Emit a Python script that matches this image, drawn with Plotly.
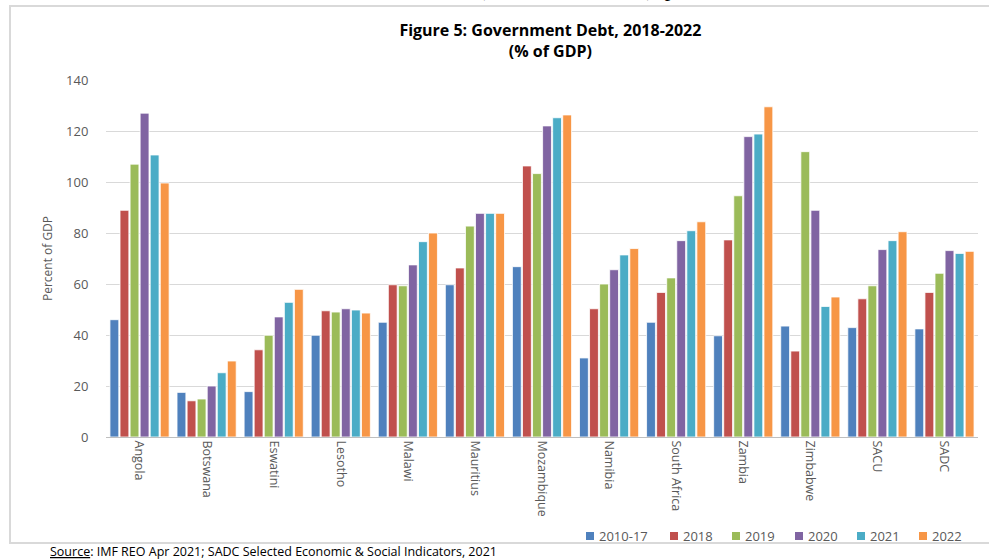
import plotly.graph_objects as go

categories = ["Angola", "Botswana", "Eswatini", "Lesotho", "Malawi", "Mauritius",
              "Mozambique", "Namibia", "South Africa", "Zambia", "Zimbabwe", "SACU", "SADC"]
series_names = ["2010-17", "2018", "2019", "2020", "2021", "2022"]

v_2010_17 = [46.0, 17.5, 17.8, 39.9, 45.0, 59.7, 66.8, 31.0, 45.0, 39.7, 43.5, 42.9, 42.4]
v_2018 = [88.9, 14.2, 34.2, 49.5, 59.7, 66.3, 106.3, 50.3, 56.7, 77.3, 33.7, 54.2, 56.7]
v_2019 = [107.0, 14.9, 39.9, 49.0, 59.3, 82.7, 103.3, 60.0, 62.4, 94.6, 111.9, 59.3, 64.2]
v_2020 = [127.0, 20.0, 47.1, 50.3, 67.5, 87.7, 122.0, 65.6, 77.0, 117.8, 88.9, 73.5, 73.1]
v_2021 = [110.6, 25.2, 52.8, 49.8, 76.6, 87.7, 125.2, 71.4, 80.9, 118.8, 51.2, 77.0, 72.0]
v_2022 = [99.6, 29.8, 57.9, 48.6, 80.0, 87.7, 126.3, 73.9, 84.4, 129.5, 54.9, 80.5, 72.8]

series_values = [v_2010_17, v_2018, v_2019, v_2020, v_2021, v_2022]
colors = ["#4F81BD", "#C0504D", "#9BBB59", "#8064A2", "#4BACC6", "#F79646"]

y_ticks = [0, 20, 40, 60, 80, 100, 120, 140]

# layout constants (pixels)
W, H = 989, 560
PL, PR, PT, PB = 106, 11, 80, 123
PW, PH = W - PL - PR, H - PT - PB
legend_x_px = [586, 670, 732, 795, 857, 919]
legend_y_px = 536


def px_x(px):
    return (px - PL) / PW


def px_y(py):
    return (H - PB - py) / PH


fig = go.Figure()
for name, vals, col in zip(series_names, series_values, colors):
    fig.add_trace(go.Bar(
        x=categories, y=vals, name=name,
        marker=dict(color=col, line=dict(color="white", width=0.8)),
        showlegend=False,
    ))

font_main = "Open Sans, Liberation Sans, sans-serif"

fig.update_layout(
    width=W, height=H,
    paper_bgcolor="white", plot_bgcolor="white",
    margin=dict(l=PL, r=PR, t=PT, b=PB, autoexpand=False),
    barmode="group", bargap=0.1, bargroupgap=0.12,
    font=dict(family=font_main, color="#595959", size=12),
    title=dict(
        text="<b>Figure 5: Government Debt, 2018-2022<br>(% of GDP)</b>",
        x=504 / W, xanchor="center", xref="paper",
        y=1 - 36 / H, yanchor="top",
        font=dict(family=font_main, size=16, color="black"),
    ),
    showlegend=False,
    xaxis=dict(
        tickangle=90, showgrid=False, showline=True, linecolor="#BFBFBF", linewidth=1,
        ticks="", tickfont=dict(size=12.5, color="#595959"), automargin=False,
    ),
    yaxis=dict(
        range=[0, 140], tickvals=y_ticks, showgrid=True, gridcolor="#D9D9D9", gridwidth=1,
        zeroline=False, showline=False, ticks="outside", ticklen=14,
        tickcolor="rgba(0,0,0,0)", automargin=False,
        tickfont=dict(size=13, color="#595959"),
        title=dict(text="Percent of GDP", font=dict(size=12, color="#595959"), standoff=10),
    ),
)

# legend drawn as small squares + labels (Excel style)
for name, col, lx in zip(series_names, colors, legend_x_px):
    fig.add_shape(type="rect", xref="paper", yref="paper",
                  x0=px_x(lx), x1=px_x(lx + 8),
                  y0=px_y(legend_y_px + 4), y1=px_y(legend_y_px - 4),
                  line=dict(width=0), fillcolor=col)
    fig.add_annotation(xref="paper", yref="paper", x=px_x(lx + 11), y=px_y(legend_y_px),
                       xanchor="left", yanchor="middle", showarrow=False, text=name,
                       font=dict(family=font_main, size=13, color="#595959"))

# outer frame of the figure box
fig.add_shape(type="rect", xref="paper", yref="paper",
              x0=px_x(10), x1=px_x(1000),
              y0=px_y(543), y1=px_y(6),
              line=dict(color="#D9D9D9", width=2), fillcolor="rgba(0,0,0,0)", layer="below")

# source note
fig.add_annotation(
    xref="paper", yref="paper", x=px_x(48), y=px_y(551),
    xanchor="left", yanchor="middle", showarrow=False,
    text="<u>Source</u>: IMF REO Apr 2021; SADC Selected Economic & Social Indicators, 2021",
    font=dict(family=font_main, size=12.5, color="black"),
)

# cropped line of the surrounding document text (only descenders visible)
fig.add_annotation(
    xref="paper", yref="paper", x=px_x(577), y=px_y(3),
    xanchor="center", yanchor="bottom", showarrow=False,
    text="(see Annex Table 4), p",
    font=dict(family="Liberation Serif, serif", size=22, color="black"),
)

fig.write_html(
    "out.html",
    config={"displayModeBar": False},
    post_script="document.body.style.margin='0px';document.body.style.overflow='hidden';",
)
